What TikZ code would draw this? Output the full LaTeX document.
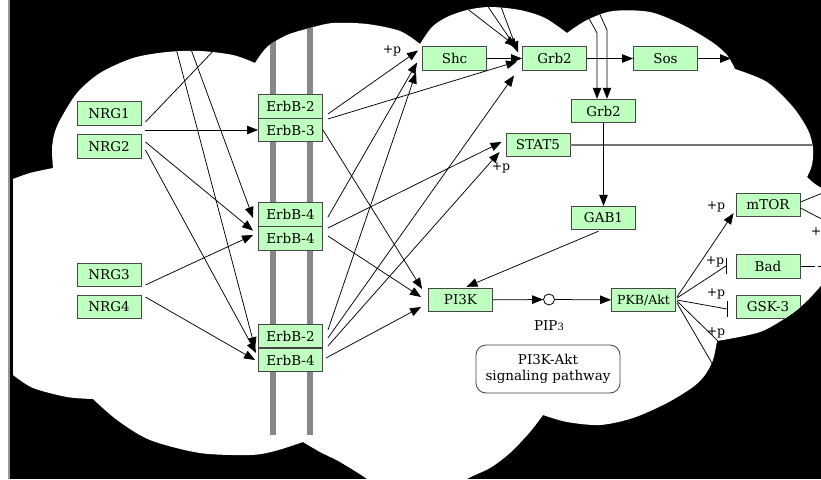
\documentclass[tikz,border=0pt]{standalone}
\usepackage{fontspec}
\setmainfont{DejaVu Serif}
\usetikzlibrary{arrows.meta,calc}

\definecolor{genefill}{RGB}{191,255,191}
\definecolor{geneline}{RGB}{70,70,70}
\definecolor{membrane}{RGB}{135,135,135}

% outline of the white cloud, lobe by lobe
\newcommand\cloudoutline{(13,179)
  -- plot[smooth] coordinates {(13,179) (30,173) (53,168)}
  -- plot[smooth] coordinates {(53,168) (52,150) (54,135) (60,120) (77,93) (100,73) (133,58) (167,52) (200,51) (233,55) (255,63)}
  -- plot[smooth] coordinates {(255,63) (267,47) (287,35) (310,28) (333,23) (367,24) (400,31) (420,44)}
  -- plot[smooth] coordinates {(420,44) (432,27) (447,17) (467,10) (490,7) (520,10) (545,18) (567,33)}
  -- plot[smooth] coordinates {(567,33) (587,20) (613,11) (650,12) (683,25) (712,42) (727,55) (735,69)}
  -- plot[smooth] coordinates {(735,69) (767,82) (793,107) (808,130) (813,148) (812,165) (807,177)}
  -- plot[smooth] coordinates {(807,177) (815,184) (825,190)}
  -- (825,281)
  -- plot[smooth] coordinates {(825,281) (808,300) (790,315) (760,332) (717,341)}
  -- plot[smooth] coordinates {(717,341) (713,360) (705,375) (693,387) (667,403) (633,418) (600,425) (567,422) (543,415)}
  -- plot[smooth] coordinates {(543,415) (530,432) (510,453) (490,468) (467,479) (445,495)}
  -- (385,495)
  -- plot[smooth] coordinates {(385,495) (367,479) (340,462) (320,452) (303,442)}
  -- plot[smooth] coordinates {(303,442) (275,451) (250,455) (200,453) (150,440) (117,420) (93,399)}
  -- plot[smooth] coordinates {(93,399) (67,397) (33,388) (13,375)}
  -- cycle}

\begin{document}
\begin{tikzpicture}[x=1pt,y=-1pt,
  gene/.style={draw=geneline,fill=genefill,line width=0.9pt,minimum width=64pt,
    minimum height=23.5pt,inner sep=0pt,font=\fontsize{13.5}{15}\selectfont},
  act/.style={line width=0.75pt,-{Triangle[length=11pt,width=8.5pt]}},
  rel/.style={line width=0.75pt},
  phos/.style={font=\fontsize{12.5}{14}\selectfont,inner sep=0pt},
]
\useasboundingbox (0,0) rectangle (821,479);
\fill[white] (0,0) rectangle (821,479);
\fill[black] (10,0) rectangle (821,479);
\draw[black!40,line width=1.4pt] (9,0) -- (9,479);
\fill[white] \cloudoutline;

\begin{scope}
\clip \cloudoutline;

% membrane
\fill[membrane] (270,0) rectangle (276,435);
\fill[membrane] (307,0) rectangle (313,435);

% free ends of connectors leaving the map
\coordinate (nrgout) at (281,-20);
\coordinate (inA) at (158,-20);
\coordinate (inB) at (165.5,-20);
\coordinate (inC1) at (430,-20);
\coordinate (inC2) at (470,-20);
\coordinate (inC3) at (491,-20);
\coordinate (inD) at (576,-5);
\coordinate (bendD) at (597,33);
\coordinate (inE) at (591,-5);
\coordinate (bendE) at (607,30);
\coordinate (sosout) at (731,58.5);
\coordinate (stat5out) at (840,145);
\coordinate (mtorA) at (835,188);
\coordinate (mtorB) at (835,226);
\coordinate (badout) at (840,266.5);
\coordinate (badT) at (726,266);
\coordinate (gskT) at (727,309);
\coordinate (aktA) at (760,382);
\coordinate (aktB) at (745,420);

% genes
\node[gene] (nrg1) at (109,113.5) {NRG1};
\node[gene] (nrg2) at (109,146.5) {NRG2};
\node[gene] (nrg3) at (109,275) {NRG3};
\node[gene] (nrg4) at (109,307) {NRG4};
\node[gene] (erbb2a) at (290.5,106.5) {ErbB-2};
\node[gene] (erbb3) at (290.5,130) {ErbB-3};
\node[gene] (erbb4a) at (290.5,214.5) {ErbB-4};
\node[gene] (erbb4b) at (290.5,238.5) {ErbB-4};
\node[gene] (erbb2c) at (290.5,336) {ErbB-2};
\node[gene] (erbb4c) at (290.5,360) {ErbB-4};
\node[gene] (shc) at (454.5,58.5) {Shc};
\node[gene] (grb2a) at (554.5,58.5) {Grb2};
\node[gene] (sos) at (665.5,58.5) {Sos};
\node[gene] (grb2b) at (603.5,111) {Grb2};
\node[gene] (stat5) at (538,145) {STAT5};
\node[gene] (gab1) at (603.5,218) {GAB1};
\node[gene] (pi3k) at (460.5,300) {PI3K};
\node[gene,font=\fontsize{12.5}{14}\selectfont] (pkb) at (643.5,300) {PKB/Akt};
\node[gene] (mtor) at (768,205) {mTOR};
\node[gene] (bad) at (768,266.5) {Bad};
\node[gene] (gsk) at (768,307) {GSK-3};
\node[circle,draw,line width=0.8pt,minimum size=11pt,inner sep=0pt,fill=white] (pip3) at (549,299.5) {};

% ligands to receptors
\draw[act] ($(nrg1.east)+(4,16.5)$) -- (erbb3.west);
\draw[rel] ($(nrg1.east)+(4,8.5)$) -- (nrgout);
\draw[act] ($(nrg2.east)+(4,-4.5)$) -- ($(erbb4a.south west)+(-5,4)$);
\draw[act] ($(nrg2.east)+(4,3.5)$) -- ($(erbb4c.west)+(-2,-7)$);
\draw[act] (inA) -- ($(erbb2c.south west)+(-3,0)$);
\draw[act] (inB) -- ($(erbb4a.west)+(-5,3.5)$);
\draw[act] ($(nrg3.east)+(4,10)$) -- ($(erbb4b.west)+(-5,-3.5)$);
\draw[act] ($(nrg4.east)+(4,-10)$) -- ($(erbb4c.west)+(-3,0)$);

% receptors to adaptors
\draw[act] ($(erbb2a.east)+(5,7.5)$) -- ($(shc.west)+(-4,-8)$);
\draw[act] ($(erbb2a.east)+(5,12.5)$) -- ($(grb2a.west)+(-5,3)$);
\draw[act] (erbb3.east) -- ($(pi3k.west)+(-6,-11)$);
\draw[act] ($(erbb4a.east)+(5,2.5)$) -- ($(shc.west)+(-5,4)$);
\draw[act] ($(erbb4a.east)+(5,13.5)$) -- ($(stat5.west)+(-4,-3)$);
\draw[act] ($(erbb4b.east)+(5,-2.5)$) -- ($(pi3k.west)+(-7,-3)$);
\draw[act] ($(erbb2c.east)+(5,-6)$) -- ($(shc.west)+(-6,14)$);
\draw[act] ($(erbb2c.east)+(5,2)$) -- ($(grb2a.west)+(-8,17)$);
\draw[act] ($(erbb2c.east)+(5,10)$) -- ($(stat5.west)+(-6,7)$);
\draw[act] ($(erbb4c.east)+(3,-2)$) -- ($(pi3k.west)+(-7,7)$);

% MAPK branch
\draw[act] (inC1) -- ($(grb2a.west)+(-6,-12)$);
\draw[act] (inC2) -- ($(grb2a.west)+(-5,-9)$);
\draw[act] (inC3) -- ($(grb2a.west)+(-4,-6)$);
\draw[act] (shc) -- (grb2a);
\draw[act] (grb2a) -- (sos);
\draw[act] (sos) -- (sosout);
\draw[act] (inD) -- (bendD) -- ($(grb2b.north)+(-6.5,0)$);
\draw[act] (inE) -- (bendE) -- ($(grb2b.north)+(3.5,0)$);
\draw[black!55,line width=1.3pt] (stat5.east) -- (stat5out);

% PI3K-Akt branch
\draw[act] (grb2b) -- (gab1);
\draw[act] ($(gab1.south)+(-5,1)$) -- ($(pi3k.north)+(6,-1)$);
\draw[act] (pi3k) -- (pip3);
\draw[act] (pip3) -- (pkb);
\draw[act] ($(pkb.east)+(1,-3)$) -- ($(mtor.south west)+(-2,-4)$);
\draw[rel] ($(pkb.east)+(1,-2)$) -- (badT);
\draw[rel] ($(badT)+(0,-8)$) -- ($(badT)+(0,8)$);
\draw[rel] ($(pkb.east)+(1,0)$) -- (gskT);
\draw[rel] ($(gskT)+(0,-8)$) -- ($(gskT)+(0,8)$);
\draw[rel] ($(pkb.east)+(1,1)$) -- (aktA);
\draw[rel] ($(pkb.east)+(1,3)$) -- (aktB);
\draw[rel] ($(mtor.east)+(0,-3)$) -- (mtorA);
\draw[rel] ($(mtor.east)+(0,3)$) -- (mtorB);
\draw[rel,dash pattern=on 15pt off 3pt on 10pt off 3pt] (bad.east) -- (badout);

% labels
\node[phos] (p1) at (392,51) {+p};
\node[phos] (p2) at (501,168) {+p};
\node[phos] (p3) at (716,207) {+p};
\node[phos] (p4) at (715,262) {+p};
\node[phos] (p5) at (716,294) {+p};
\node[phos] (p6) at (716,333) {+p};
\node[phos] (p7) at (816,232) {+};
\node[font=\fontsize{13.5}{15}\selectfont,inner sep=0pt] (piplabel) at (549,326) {PIP{\fontsize{10}{10}\selectfont 3}};
\node[draw=black!75,rounded corners=10pt,line width=0.8pt,minimum width=144pt,minimum height=48pt,
  align=center,inner sep=0pt,font=\fontsize{13.5}{15.5}\selectfont] (pathway) at (548,369) {PI3K-Akt\\signaling pathway};
\end{scope}
\end{tikzpicture}
\end{document}
